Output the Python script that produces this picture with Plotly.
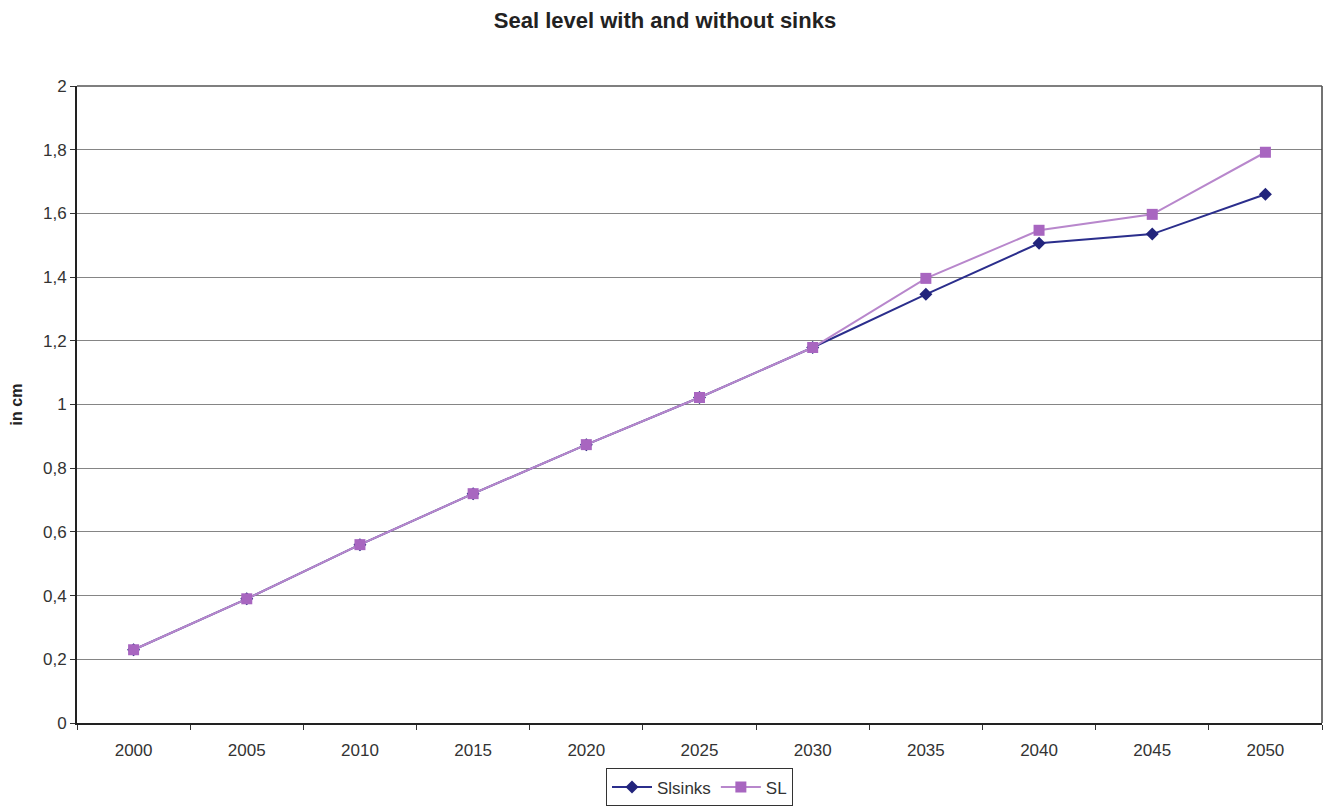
import plotly.graph_objects as go

years = ["2000", "2005", "2010", "2015", "2020", "2025", "2030", "2035", "2040", "2045", "2050"]
slsinks = [0.23, 0.39, 0.56, 0.72, 0.874, 1.022, 1.179, 1.346, 1.506, 1.535, 1.66]
sl = [0.23, 0.39, 0.56, 0.72, 0.874, 1.022, 1.179, 1.396, 1.547, 1.597, 1.792]
yticks = [0, 0.2, 0.4, 0.6, 0.8, 1, 1.2, 1.4, 1.6, 1.8, 2]
ytick_labels = ["0", "0,2", "0,4", "0,6", "0,8", "1", "1,2", "1,4", "1,6", "1,8", "2"]

fig = go.Figure()
fig.add_trace(go.Scatter(x=years, y=slsinks, name="Slsinks", mode="lines+markers",
                         line=dict(color="#2B2E8C", width=2),
                         marker=dict(symbol="diamond", size=10, color="#22247C")))
fig.add_trace(go.Scatter(x=years, y=sl, name="SL", mode="lines+markers",
                         line=dict(color="#B887CC", width=2),
                         marker=dict(symbol="square", size=11, color="#A866C0")))

fig.update_layout(
    width=1330, height=808,
    paper_bgcolor="white", plot_bgcolor="white",
    margin=dict(l=77, r=8, t=86, b=85),
    font=dict(family="Liberation Sans, Arial, sans-serif", size=17, color="#333333"),
    title=dict(text="<b>Seal level with and without sinks</b>", x=0.5, xanchor="center",
               y=0.975, yanchor="middle", font=dict(size=22, color="#222222")),
    showlegend=True,
    legend=dict(orientation="h", x=0.5, xanchor="center", yref="container", y=0.002, yanchor="bottom",
                bordercolor="#333333", borderwidth=1, font=dict(size=17, color="#333333"),
                itemwidth=40, tracegroupgap=0),
    xaxis=dict(type="category", range=[-0.5, 10.5], showgrid=False,
               ticks="outside", tickson="boundaries", ticklen=5, tickcolor="#333333",
               ticklabelstandoff=11,
               showline=True, linecolor="#222222", linewidth=2, zeroline=False),
    yaxis=dict(range=[0, 2], tickvals=yticks, ticktext=ytick_labels,
               showgrid=True, gridcolor="#858585", gridwidth=1,
               ticks="outside", ticklen=5, tickcolor="#333333",
               showline=True, linecolor="#222222", linewidth=2, zeroline=False,
               title=dict(text="<b>in cm</b>", font=dict(size=16, color="#222222"), standoff=16)),
)
fig.add_shape(type="line", xref="paper", yref="paper", x0=1, x1=1, y0=0, y1=1,
              line=dict(color="#444444", width=1.5))
fig.add_shape(type="line", xref="paper", yref="paper", x0=0, x1=1, y0=1, y1=1,
              line=dict(color="#555555", width=1.5))

fig.write_html("out.html")
